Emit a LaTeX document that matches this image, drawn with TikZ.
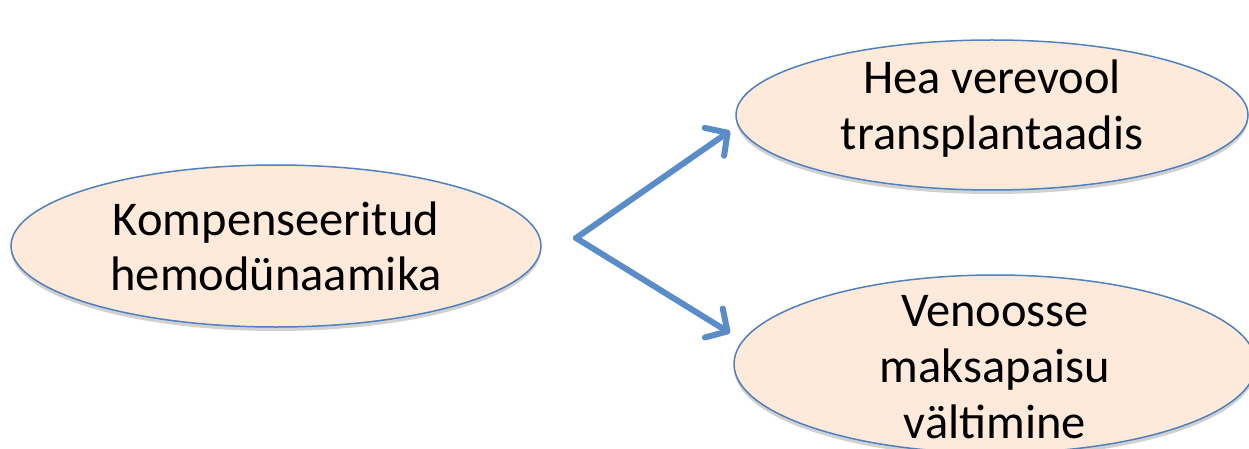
\documentclass[tikz,border=0pt]{standalone}
\usepackage{fontspec}
\setmainfont{Carlito}
\usetikzlibrary{shapes.geometric,arrows.meta,shadows}
\definecolor{edgeblue}{HTML}{4F81BD}
\definecolor{arrowblue}{HTML}{5A8DC8}
\definecolor{peach}{HTML}{FDEADA}
\tikzset{
  bubble/.style={ellipse, draw=edgeblue, line width=1.5pt, fill=peach, inner sep=0pt,
    drop shadow={shadow xshift=0pt, shadow yshift=-4pt, opacity=0.18, fill=black}},
  words/.style={align=center, inner sep=0pt, font=\fontsize{48.5}{55}\selectfont},
  flow/.style={draw=arrowblue, line width=6pt, line cap=round, line join=round,
    -{Straight Barb[length=16pt,width=34pt,line cap=round,line join=round]}}
}
\begin{document}
\begin{tikzpicture}[x=1pt,y=1pt]
\clip (0,0) rectangle (1249,-449);
\fill[white] (0,0) rectangle (1249,-449);
\node[bubble, minimum width=530pt, minimum height=162pt] (left) at (276,-246) {};
\node[words] (leftText) at (left.center) {Kompenseeritud\\hemodünaamika};
\node[bubble, minimum width=512pt, minimum height=150pt] (top) at (992,-115) {};
\node[words, font=\fontsize{48.5}{56}\selectfont] (topText) at (992,-109) {Hea verevool\\transplantaadis};
\node[bubble, minimum width=522pt, minimum height=178pt] (bot) at (995,-364) {};
\node[words, font=\fontsize{48.5}{56}\selectfont] (botText) at (995,-367) {Venoosse\\maksapaisu\\vältimine};
\coordinate (split) at (576,-238);
\coordinate (tipTop) at (730,-131);
\coordinate (tipBot) at (730,-333);
\draw[flow] (split) -- (tipTop);
\draw[flow] (split) -- (tipBot);
\end{tikzpicture}
\end{document}
